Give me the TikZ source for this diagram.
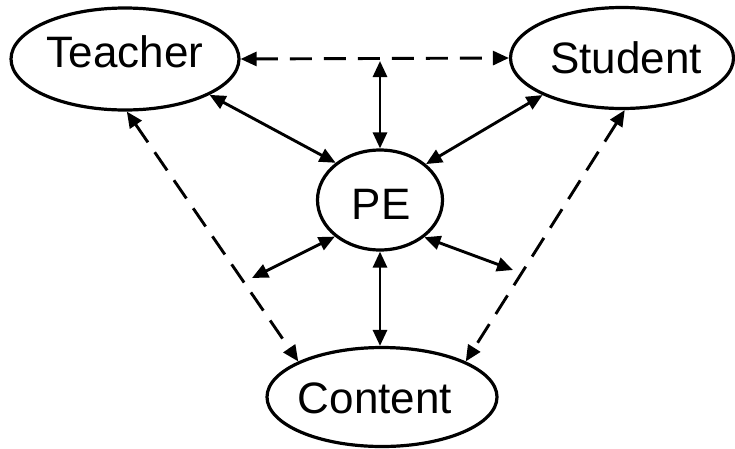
\documentclass[tikz,border=0pt]{standalone}
\usepackage{fontspec}
\setmainfont{Liberation Sans}
\usetikzlibrary{arrows.meta,shapes.geometric}
\begin{document}
\begin{tikzpicture}[x=1pt,y=-1pt,
  bubble/.style={draw, ellipse, line width=3.2pt, inner sep=0pt},
  lbl/.style={anchor=base, font=\fontsize{44}{50}\selectfont, inner sep=0pt},
  link/.style={line width=2.9pt,
    {Triangle[length=16pt,width=14pt]}-{Triangle[length=16pt,width=14pt]}},
  dashlink/.style={link, dash pattern=on 22pt off 12pt}]
\useasboundingbox (0,0) rectangle (735,448);

% four ellipses
\node[bubble, minimum width=228pt, minimum height=102pt] (teacher) at (125,59) {};
\node[bubble, minimum width=223pt, minimum height=101pt] (student) at (622,58) {};
\node[bubble, minimum width=125pt, minimum height=100pt] (pe) at (380,200) {};
\node[bubble, minimum width=230pt, minimum height=99pt] (content) at (382,397) {};

% their labels
\node[lbl] (teacherlbl) at (125,67) {Teacher};
\node[lbl] (studentlbl) at (626,73.5) {Student};
\node[lbl] (pelbl) at (381,219) {PE};
\node[lbl] (contentlbl) at (375,413) {Content};

% free ends of the short arrows
\coordinate (top) at (380,61);
\coordinate (leftend) at (252,278);
\coordinate (rightend) at (513,270);

% dashed relations
\draw[dashlink] (teacher.east) -- (student.west);
\draw[dashlink] (teacher.-88) -- (content.157);
\draw[dashlink] (student.273) -- (content.23);

% solid relations through PE
\draw[link] (top) -- (pe.north);
\draw[link] (teacher.-23) -- (pe.140);
\draw[link] (student.205) -- (pe.38);
\draw[link] (leftend) -- (pe.219);
\draw[link] (rightend) -- (pe.320);
\draw[link] (pe.south) -- (pe.south |- content.north);
\end{tikzpicture}
\end{document}
